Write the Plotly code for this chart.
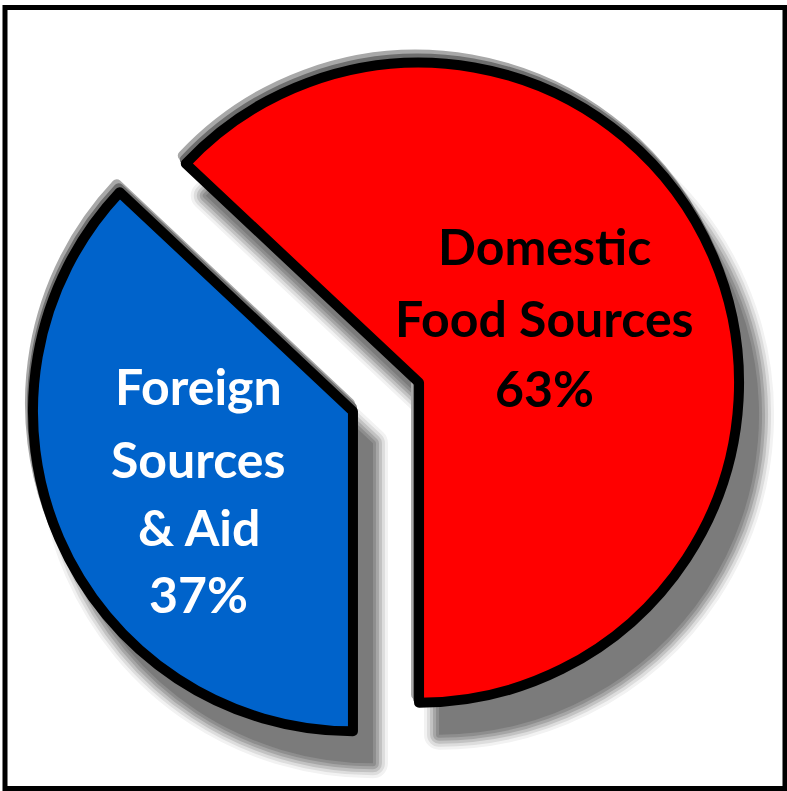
import plotly.graph_objects as go

# Data
labels = ["Domestic Food Sources", "Foreign Sources & Aid"]
label_lines = [["Domestic", "Food Sources"], ["Foreign", "Sources", "& Aid"]]
values = [63, 37]
colors = ["#FF0000", "#0063CB"]
text_colors = ["#000000", "#FFFFFF"]

W, H = 787, 791
CX, CY = 386, 397          # pie centre in px (y downwards)
R = 320                    # slice radius in px
PULL_PX = 36               # explode distance in px
START = 180 - 360 * values[0] / 100   # first slice ends at 6 o'clock


def pie_domain(cx, cy, r):
    half = r + PULL_PX
    return dict(x=[(cx - half) / W, (cx + half) / W],
                y=[1 - (cy + half) / H, 1 - (cy - half) / H])


def slice_trace(cx, cy, r, fill, line_color, line_width):
    return go.Pie(
        labels=labels,
        values=values,
        sort=False,
        direction="clockwise",
        rotation=START,
        pull=PULL_PX / r,
        domain=pie_domain(cx, cy, r),
        marker=dict(colors=fill, line=dict(color=line_color, width=line_width)),
        textinfo="none",
        hoverinfo="skip",
        showlegend=False,
    )


fig = go.Figure()

# soft drop shadow, built from concentric grey layers
SH_DX, SH_DY = 20, 32
shadow_layers = [("#f2f2f2", 30), ("#dddddd", 24), ("#c2c2c2", 18),
                 ("#a6a6a6", 12), ("#8e8e8e", 6), ("#7b7b7b", 0)]
for col, lw in shadow_layers:
    fig.add_trace(slice_trace(CX + SH_DX, CY + SH_DY, R, [col, col], col, lw))

# light bevel along the upper rims
fig.add_trace(slice_trace(CX - 3, CY - 8, R, ["#a8a8a8"] * 2, "#a8a8a8", 10))
fig.add_trace(slice_trace(CX - 1, CY - 4, R, ["#6e6e6e"] * 2, "#6e6e6e", 10))

# the slices themselves
fig.add_trace(slice_trace(CX, CY, R, colors, "#000000", 10))

# slice labels, one annotation per line (y = line centre in px)
label_x = [544, 199]
label_y = [[246, 318, 388], [386, 459, 527, 594]]
for lines, v, tc, lx, ly in zip(label_lines, values, text_colors, label_x, label_y):
    for txt, py in zip(lines + [f"{v}%"], ly):
        fig.add_annotation(
            x=lx / W, y=1 - py / H, xref="paper", yref="paper",
            text=txt, showarrow=False, xanchor="center", yanchor="middle",
            font=dict(family="Lato", size=50, color=tc, weight=700),
        )

# outer frame
fig.add_shape(type="rect", xref="paper", yref="paper",
              x0=5 / W, x1=785 / W, y0=1 - 788.5 / H, y1=1 - 7.5 / H,
              line=dict(color="#000000", width=5), fillcolor="rgba(0,0,0,0)")

fig.update_layout(
    width=W, height=H,
    margin=dict(l=0, r=0, t=0, b=0),
    paper_bgcolor="#FFFFFF",
    plot_bgcolor="#FFFFFF",
)

fig.write_html("out.html")
